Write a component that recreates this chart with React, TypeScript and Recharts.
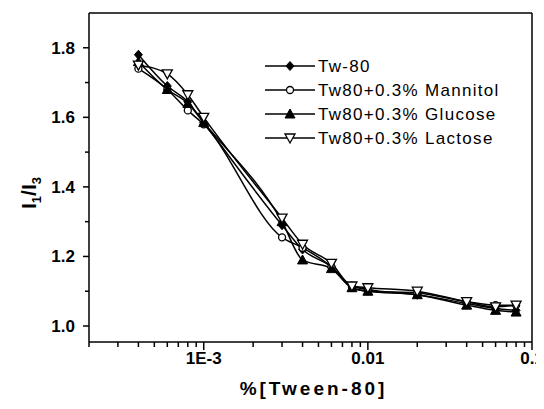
import React from "react";
import { LineChart, Line, XAxis, YAxis, ReferenceLine } from "recharts";

const concentrations = [4e-4, 6e-4, 8e-4, 1e-3, 3e-3, 4e-3, 6e-3, 8e-3, 0.01, 0.02, 0.04, 0.06, 0.08];
const tw80 = [1.78, 1.69, 1.645, 1.585, 1.29, 1.22, 1.17, 1.115, 1.105, 1.09, 1.065, 1.05, 1.045];
const mannitol = [1.74, 1.68, 1.62, 1.58, 1.255, 1.225, 1.17, 1.11, 1.1, 1.095, 1.07, 1.06, 1.06];
const glucose = [1.76, 1.68, 1.64, 1.585, 1.3, 1.19, 1.165, 1.11, 1.1, 1.09, 1.06, 1.045, 1.04];
const lactose = [1.75, 1.725, 1.665, 1.6, 1.31, 1.235, 1.18, 1.115, 1.11, 1.1, 1.07, 1.055, 1.06];

const seriesNames = ["Tw-80", "Tw80+0.3% Mannitol", "Tw80+0.3% Glucose", "Tw80+0.3% Lactose"];
const xMajorTicks = [1e-3, 0.01, 0.1];
const xTickLabels = ["1E-3", "0.01", "0.1"];
const xTicks = [
  2e-4, 3e-4, 4e-4, 5e-4, 6e-4, 7e-4, 8e-4, 9e-4, 1e-3,
  2e-3, 3e-3, 4e-3, 5e-3, 6e-3, 7e-3, 8e-3, 9e-3, 0.01,
  0.02, 0.03, 0.04, 0.05, 0.06, 0.07, 0.08, 0.09, 0.1,
];
const yTicks = [1.0, 1.1, 1.2, 1.3, 1.4, 1.5, 1.6, 1.7, 1.8];
const yMajorTicks = [1.0, 1.2, 1.4, 1.6, 1.8];
const xDomain = [2e-4, 0.1];
const yDomain = [0.954, 1.9];

const data = concentrations.map((c, i) => ({
  c,
  tw80: tw80[i],
  mannitol: mannitol[i],
  glucose: glucose[i],
  lactose: lactose[i],
}));

const FONT = "Arial, 'Liberation Sans', sans-serif";

type Shape = "diamond" | "circle" | "triangle" | "downTriangle";

const marker = (shape: Shape, cx: number, cy: number, key?: string | number) => {
  if (cx == null || cy == null || isNaN(cx) || isNaN(cy)) return <g key={key} />;
  switch (shape) {
    case "diamond":
      return (
        <path key={key} d={`M${cx},${cy - 4.5}L${cx + 4},${cy}L${cx},${cy + 4.5}L${cx - 4},${cy}Z`} fill="#000" stroke="#000" strokeWidth={1} />
      );
    case "circle":
      return <circle key={key} cx={cx} cy={cy} r={3.5} fill="#fff" stroke="#000" strokeWidth={1.3} />;
    case "triangle":
      return (
        <path key={key} d={`M${cx},${cy - 5}L${cx + 5},${cy + 4}L${cx - 5},${cy + 4}Z`} fill="#000" stroke="#000" strokeWidth={1} />
      );
    case "downTriangle":
      return (
        <path key={key} d={`M${cx - 5},${cy - 4}L${cx + 5},${cy - 4}L${cx},${cy + 5}Z`} fill="#fff" stroke="#000" strokeWidth={1.3} />
      );
  }
};

const makeDot = (shape: Shape) => (props: any) => marker(shape, props.cx, props.cy, props.key ?? props.index);

const shapes: Shape[] = ["diamond", "circle", "triangle", "downTriangle"];

const XTick = (props: any) => {
  const { x, y, payload } = props;
  const v = payload.value;
  const idx = xMajorTicks.findIndex((m) => Math.abs(m - v) / m < 1e-6);
  const major = idx >= 0;
  return (
    <g>
      <line x1={x} x2={x} y1={y} y2={y + (major ? 8 : 5)} stroke="#000" strokeWidth={1.5} />
      {major && (
        <text x={x} y={y + 22} textAnchor="middle" fontFamily={FONT} fontWeight="bold" fontSize={17} fill="#000">
          {xTickLabels[idx]}
        </text>
      )}
    </g>
  );
};

const YTick = (props: any) => {
  const { x, y, payload } = props;
  const v = payload.value;
  const major = yMajorTicks.some((m) => Math.abs(m - v) < 1e-6);
  return (
    <g>
      <line x1={x} x2={x - (major ? 6 : 4)} y1={y} y2={y} stroke="#000" strokeWidth={1.5} />
      {major && (
        <text x={x - 14} y={y + 6} textAnchor="end" fontFamily={FONT} fontWeight="bold" fontSize={17} fill="#000">
          {v.toFixed(1)}
        </text>
      )}
    </g>
  );
};

const LegendBox = () => (
  <svg width={280} height={100} style={{ position: "absolute", left: 257, top: 50, overflow: "visible" }}>
    {seriesNames.map((name, i) => {
      const y = 8 + i * 24;
      return (
        <g key={name}>
          <line x1={0} x2={50} y1={y} y2={y} stroke="#000" strokeWidth={1.5} />
          {marker(shapes[i], 25, y)}
          <text x={53} y={y + 6} fontFamily={FONT} fontSize={17} letterSpacing={1.3} fill="#000">
            {name}
          </text>
        </g>
      );
    })}
  </svg>
);

const keys = ["tw80", "mannitol", "glucose", "lactose"];

export default function App() {
  return (
    <div style={{ position: "relative", width: 536, height: 393 }}>
      <LineChart width={536} height={393} data={data} margin={{ top: 5, right: 12, left: 0, bottom: 0 }}>
        <XAxis
          dataKey="c"
          type="number"
          scale="log"
          domain={xDomain}
          allowDataOverflow
          ticks={xTicks}
          interval={0}
          tick={<XTick />}
          tickLine={false}
          tickSize={0}
          tickMargin={0}
          axisLine={{ stroke: "#000", strokeWidth: 1.5 }}
          height={59}
          label={(p: any) => {
            const vb = p.viewBox || {};
            return (
              <text
                x={(vb.x ?? 81) + (vb.width ?? 443) / 2 + 3}
                y={(vb.y ?? 334) + 53}
                textAnchor="middle"
                fontFamily={FONT}
                fontWeight="bold"
                fontSize={19}
                letterSpacing={3}
                fill="#000"
              >
                %[Tween-80]
              </text>
            );
          }}
        />
        <YAxis
          type="number"
          domain={yDomain}
          allowDataOverflow
          ticks={yTicks}
          interval={0}
          tick={<YTick />}
          tickLine={false}
          tickSize={0}
          tickMargin={0}
          axisLine={{ stroke: "#000", strokeWidth: 1.5 }}
          width={81}
          label={() => (
            <text
              transform="translate(21,185) rotate(-90)"
              textAnchor="middle"
              fontFamily={FONT}
              fontWeight="bold"
              fontSize={21}
              fill="#000"
              dy={7}
            >
              <tspan>I</tspan>
              <tspan fontSize={13} dy={5}>1</tspan>
              <tspan dy={-5}>/I</tspan>
              <tspan fontSize={13} dy={5}>3</tspan>
            </text>
          )}
        />
        <ReferenceLine y={yDomain[1]} stroke="#000" strokeWidth={1.5} ifOverflow="visible" />
        <ReferenceLine x={xDomain[1]} stroke="#000" strokeWidth={1.5} ifOverflow="visible" />
        {keys.map((k, i) => (
          <Line
            key={k}
            dataKey={k}
            name={seriesNames[i]}
            type="monotone"
            stroke="#000"
            strokeWidth={1.5}
            dot={makeDot(shapes[i])}
            activeDot={false}
            isAnimationActive={false}
          />
        ))}
      </LineChart>
      <LegendBox />
    </div>
  );
}
